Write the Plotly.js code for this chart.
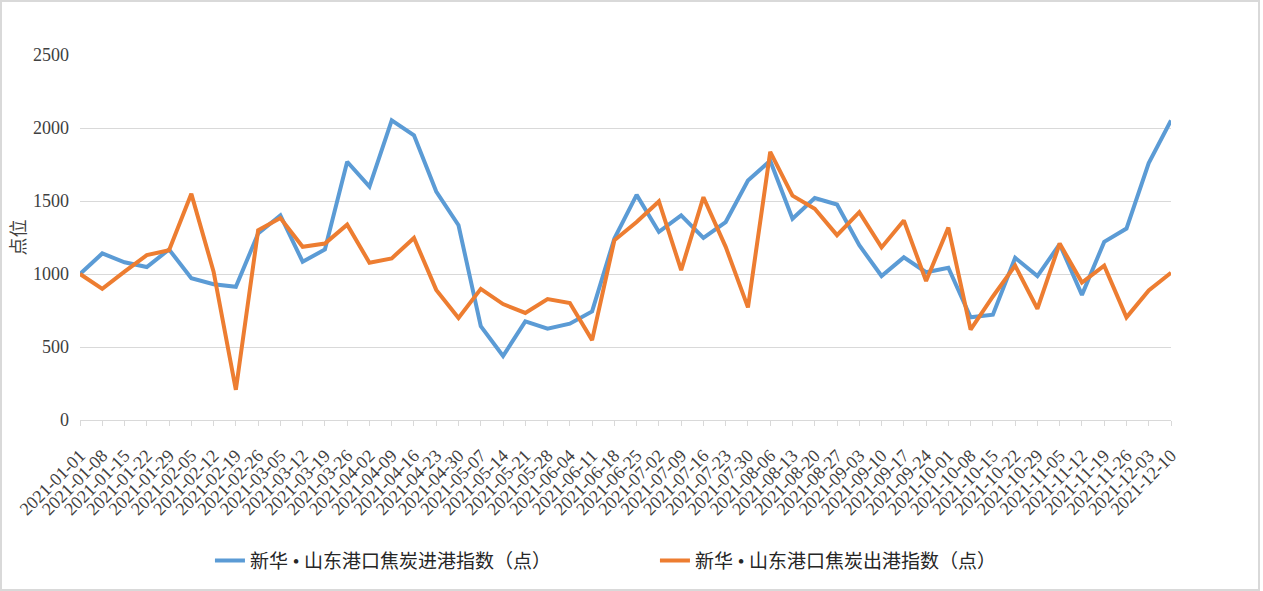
<!DOCTYPE html>
<html>
<head>
<meta charset="utf-8">
<script src="https://cdn.plot.ly/plotly-3.0.1.min.js"></script>
<style>
  html, body { margin: 0; padding: 0; background: #fff; }
  #wrap { position: relative; width: 1263px; height: 591px; }
  #chart { position: absolute; left: 0; top: 0; width: 1263px; height: 591px; }
  #frame { position: absolute; left: 0; top: 0; width: 1260px; height: 591px; box-sizing: border-box;
           border: 2px solid #d9d9d9; pointer-events: none; }
</style>
</head>
<body>
<div id="wrap"><div id="chart"></div><div id="frame"></div></div>
<script>
const dates = [
  "2021-01-01","2021-01-08","2021-01-15","2021-01-22","2021-01-29","2021-02-05","2021-02-12","2021-02-19",
  "2021-02-26","2021-03-05","2021-03-12","2021-03-19","2021-03-26","2021-04-02","2021-04-09","2021-04-16",
  "2021-04-23","2021-04-30","2021-05-07","2021-05-14","2021-05-21","2021-05-28","2021-06-04","2021-06-11",
  "2021-06-18","2021-06-25","2021-07-02","2021-07-09","2021-07-16","2021-07-23","2021-07-30","2021-08-06",
  "2021-08-13","2021-08-20","2021-08-27","2021-09-03","2021-09-10","2021-09-17","2021-09-24","2021-10-01",
  "2021-10-08","2021-10-15","2021-10-22","2021-10-29","2021-11-05","2021-11-12","2021-11-19","2021-11-26",
  "2021-12-03","2021-12-10"
];
const inboundName = "新华 • 山东港口焦炭进港指数（点）";
const outboundName = "新华 • 山东港口焦炭出港指数（点）";
const inbound = [
  1000, 1141, 1080, 1048, 1168, 971, 930, 912, 1277, 1401,
  1084, 1168, 1769, 1599, 2052, 1950, 1565, 1334, 642, 438,
  676, 626, 660, 744, 1243, 1542, 1288, 1401, 1247, 1356,
  1640, 1776, 1379, 1520, 1476, 1197, 986, 1114, 1012, 1043,
  703, 721, 1111, 986, 1204, 857, 1220, 1311, 1760, 2052
];
const outbound = [
  1000, 898, 1016, 1129, 1163, 1549, 1016, 207, 1299, 1383,
  1186, 1209, 1338, 1077, 1107, 1247, 891, 699, 898, 794,
  733, 828, 801, 547, 1231, 1356, 1497, 1027, 1526, 1186,
  771, 1837, 1537, 1447, 1266, 1424, 1182, 1367, 952, 1318,
  619, 846, 1057, 762, 1209, 941, 1057, 703, 887, 1009
];
const yTitle = "点位";

const serif = "Times New Roman, Liberation Serif, DejaVu Serif, serif";
const cjk = "Times New Roman, Liberation Serif, Noto Sans CJK SC, serif";

const traces = [
  { type: "scatter", mode: "lines", x: dates, y: inbound, name: inboundName,
    line: { color: "#5B9BD5", width: 4 } },
  { type: "scatter", mode: "lines", x: dates, y: outbound, name: outboundName,
    line: { color: "#ED7D31", width: 4 } }
];

const layout = {
  width: 1263, height: 591,
  margin: { l: 80, r: 92, t: 55, b: 168 },
  paper_bgcolor: "#ffffff", plot_bgcolor: "#ffffff",
  showlegend: true,
  legend: {
    orientation: "h", x: 0.527, xanchor: "center", y: -0.385, yanchor: "middle",
    font: { family: cjk, size: 19, color: "#262626" },
    entrywidth: 400, entrywidthmode: "pixels"
  },
  xaxis: {
    type: "category", range: [0, dates.length - 1],
    tickmode: "array", tickvals: dates, ticktext: dates,
    showgrid: false, zeroline: false,
    showline: true, linecolor: "#d9d9d9", linewidth: 1,
    ticks: "outside", ticklen: 5, tickcolor: "#d9d9d9", tickwidth: 1,
    ticklabelstandoff: 12,
    tickangle: -45, tickfont: { family: serif, size: 18, color: "#404040" },
    fixedrange: true
  },
  yaxis: {
    range: [0, 2500], dtick: 500, tick0: 0,
    showgrid: true, gridcolor: "#d9d9d9", gridwidth: 1,
    zeroline: false, showline: false, ticks: "",
    ticklabelstandoff: 10,
    tickfont: { family: serif, size: 18, color: "#404040" },
    title: { text: yTitle, font: { family: cjk, size: 18, color: "#404040" }, standoff: 2 },
    fixedrange: true
  }
};

Plotly.newPlot("chart", traces, layout, { displayModeBar: false, staticPlot: true });
</script>
</body>
</html>
